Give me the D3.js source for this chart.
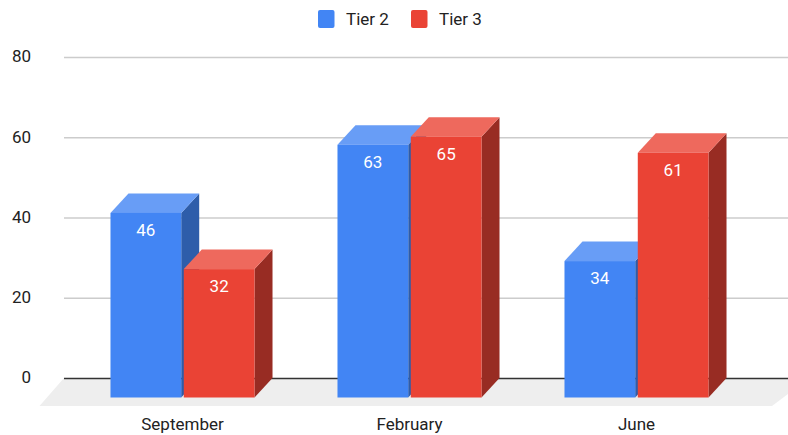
<!DOCTYPE html>
<html>
<head>
<meta charset="utf-8">
<script src="https://cdn.jsdelivr.net/npm/d3@7"></script>
<style>
html,body{margin:0;padding:0;background:#fff;overflow:hidden}
text{font-family:Roboto,sans-serif}
</style>
</head>
<body>
<svg id="chart" width="788" height="435"></svg>
<script>
const categories = ["September", "February", "June"];
const seriesNames = ["Tier 2", "Tier 3"];
const tier2 = [46, 63, 34];
const tier3 = [32, 65, 61];
const yTicks = [0, 20, 40, 60, 80];

const palette = {
  "Tier 2": {front: "#4285f4", top: "#689df6", side: "#2e5daa"},
  "Tier 3": {front: "#ea4335", top: "#ee695d", side: "#982c23"}
};
const depthX = 18, depthY = 19.5;

const svg = d3.select("#chart");
const y = d3.scaleLinear().domain([0, 80]).range([378, 57]);
const x0 = d3.scaleBand().domain(categories).range([69, 750]).paddingInner(0.3655).paddingOuter(0.18275);
const x1 = d3.scaleBand().domain(seriesNames).range([0, x0.bandwidth()]).paddingInner(0.035);

// floor
const floorBack = y(0), floorFront = floorBack + 28;
svg.append("path")
  .attr("d", d3.line()([[64, floorBack], [788, floorBack], [788, floorFront - 12], [772, floorFront], [39.5, floorFront]]) + "Z")
  .attr("fill", "#eeeeee");

// gridlines + y labels through the axis
const yAxis = d3.axisLeft(y).tickValues(yTicks).tickSize(-724).tickPadding(0);
const gy = svg.append("g").attr("transform", "translate(64,0)").call(yAxis);
gy.select(".domain").remove();
gy.selectAll(".tick line")
  .attr("stroke", d => d === 0 ? "#333333" : "#cccccc")
  .attr("stroke-width", 1.5);
gy.selectAll(".tick text")
  .attr("x", -33).attr("dy", "0.28em")
  .style("font-size", "17px").attr("fill", "#222222")
  .attr("text-anchor", "end");

// bars
const values = {"Tier 2": tier2, "Tier 3": tier3};
const frontY = v => y(v) + depthY;
const baseY = frontY(0);
categories.forEach((c, ci) => {
  seriesNames.forEach(s => {
    const v = values[s][ci], p = palette[s];
    const l = x0(c) + x1(s), r = l + x1.bandwidth(), t = frontY(v);
    const g = svg.append("g");
    const line = d3.line();
    g.append("path").attr("fill", p.side)
      .attr("d", line([[r, t], [r + depthX, t - depthY], [r + depthX, baseY - depthY], [r, baseY]]) + "Z");
    g.append("path").attr("fill", p.top)
      .attr("d", line([[l, t], [l + depthX, t - depthY], [r + depthX, t - depthY], [r, t]]) + "Z");
    g.append("rect").attr("x", l).attr("y", t).attr("width", r - l).attr("height", baseY - t).attr("fill", p.front);
    g.append("text").attr("x", (l + r) / 2).attr("y", t + 23)
      .attr("text-anchor", "middle").attr("fill", "#ffffff").style("font-size", "17px").text(v);
  });
});

// category labels
const xAxis = d3.axisBottom(x0).tickSize(0).tickPadding(0);
const gx = svg.append("g").attr("transform", "translate(0,417.5)").call(xAxis);
gx.select(".domain").remove();
gx.selectAll(".tick text").style("font-size", "17px").attr("fill", "#222222");

// legend
const legendX = [318, 411];
seriesNames.forEach((s, i) => {
  svg.append("rect").attr("x", legendX[i]).attr("y", 10).attr("width", 16.5).attr("height", 18).attr("rx", 2)
    .attr("fill", palette[s].front);
  svg.append("text").attr("x", legendX[i] + 28).attr("y", 24.5)
    .style("font-size", "17px").attr("fill", "#222222").text(s);
});
</script>
</body>
</html>
